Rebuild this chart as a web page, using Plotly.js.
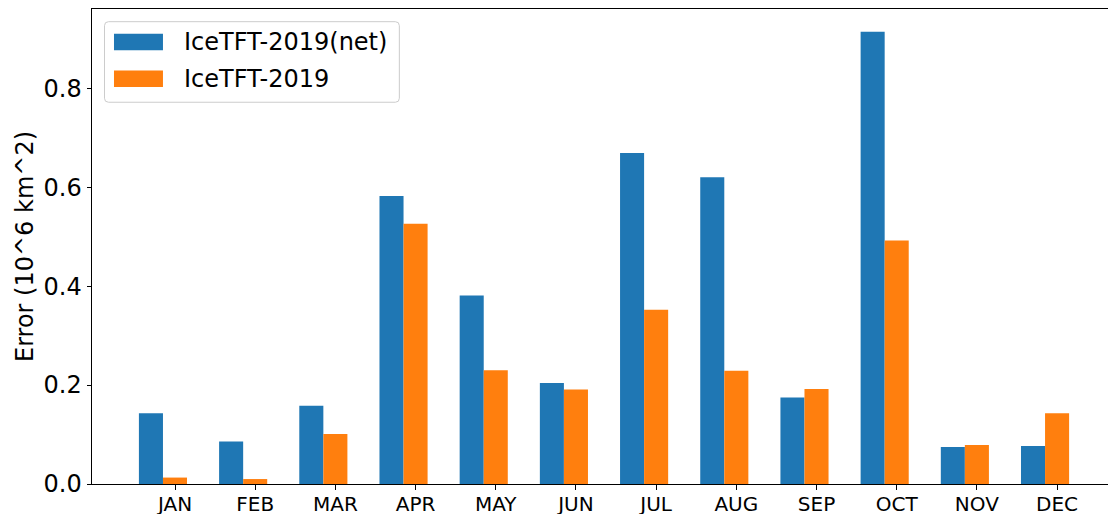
<!DOCTYPE html>
<html>
<head>
<meta charset="utf-8">
<script src="https://cdn.plot.ly/plotly-3.0.1.min.js"></script>
<style>
  html, body { margin: 0; padding: 0; background: #fff; overflow: hidden; }
  #chart { width: 1108px; height: 514px; }
</style>
</head>
<body>
<div id="chart"></div>
<script>
// Monthly error for two model variants (10^6 km^2)
const months = ["JAN", "FEB", "MAR", "APR", "MAY", "JUN", "JUL", "AUG", "SEP", "OCT", "NOV", "DEC"];
const netName = "IceTFT-2019(net)";
const baseName = "IceTFT-2019";
const netErr  = [0.143, 0.086, 0.158, 0.582, 0.381, 0.204, 0.669, 0.620, 0.175, 0.914, 0.075, 0.077];
const baseErr = [0.013, 0.010, 0.101, 0.526, 0.230, 0.191, 0.352, 0.229, 0.192, 0.492, 0.079, 0.143];
const yTicks = [0, 0.2, 0.4, 0.6, 0.8];

const BLUE = "#1f77b4", ORANGE = "#ff7f0e";
const FONT = "DejaVu Sans, Liberation Sans, sans-serif";
const barW = 0.3;

// plot area in page pixels (right edge runs to the page border)
const PL = 91.5, PR = 1108, PT = 9, PB = 484.3;
const W = 1108, H = 514;
const px2paperX = p => (p - PL) / (PR - PL);
const px2paperY = p => (PB - p) / (PB - PT);

const idx = months.map((_, i) => i);

const traces = [
  { type: "bar", name: netName, x: idx, y: netErr, width: barW,
    marker: { color: BLUE, line: { width: 0 } }, showlegend: false, hoverinfo: "y" },
  { type: "bar", name: baseName, x: idx.map(i => i + barW), y: baseErr, width: barW,
    marker: { color: ORANGE, line: { width: 0 } }, showlegend: false, hoverinfo: "y" }
];

// hand-built legend: rounded frame, wide colour patches, labels
function roundedRect(x0, y0, x1, y1, r) {
  const X = p => px2paperX(p), Y = p => px2paperY(p);
  return `M${X(x0 + r)},${Y(y0)} L${X(x1 - r)},${Y(y0)} Q${X(x1)},${Y(y0)} ${X(x1)},${Y(y0 + r)} ` +
         `L${X(x1)},${Y(y1 - r)} Q${X(x1)},${Y(y1)} ${X(x1 - r)},${Y(y1)} ` +
         `L${X(x0 + r)},${Y(y1)} Q${X(x0)},${Y(y1)} ${X(x0)},${Y(y1 - r)} ` +
         `L${X(x0)},${Y(y0 + r)} Q${X(x0)},${Y(y0)} ${X(x0 + r)},${Y(y0)} Z`;
}
const legendItems = [
  { name: netName, color: BLUE, top: 33.7, bottom: 50.3, textY: 42.5 },
  { name: baseName, color: ORANGE, top: 70.5, bottom: 87.0, textY: 79.0 }
];

const shapes = [
  { type: "path", xref: "paper", yref: "paper", path: roundedRect(104, 21.7, 399, 102.3, 4),
    fillcolor: "rgba(255,255,255,0.8)", line: { color: "#cccccc", width: 1 } }
];
const annotations = [];
legendItems.forEach(it => {
  shapes.push({ type: "rect", xref: "paper", yref: "paper",
    x0: px2paperX(113.5), x1: px2paperX(162.5), y0: px2paperY(it.bottom), y1: px2paperY(it.top),
    fillcolor: it.color, line: { width: 0 } });
  annotations.push({ xref: "paper", yref: "paper", x: px2paperX(182), y: px2paperY(it.textY),
    xanchor: "left", yanchor: "middle", showarrow: false, text: it.name,
    font: { family: FONT, size: 24, color: "#000" } });
});

const layout = {
  width: W, height: H,
  margin: { l: PL, r: W - PR, t: PT, b: H - PB, pad: 0 },
  paper_bgcolor: "#fff", plot_bgcolor: "#fff",
  barmode: "overlay",
  font: { family: FONT, color: "#000" },
  xaxis: {
    range: [-0.735, 11.935], showgrid: false, zeroline: false,
    tickmode: "array", tickvals: idx.map(i => i + barW), ticktext: months,
    ticks: "outside", ticklen: 4.5, tickwidth: 1, tickcolor: "#000",
    ticklabelstandoff: -3,
    tickfont: { family: FONT, size: 20, color: "#000" },
    showline: true, linecolor: "#000", linewidth: 1, mirror: true, automargin: false
  },
  yaxis: {
    range: [0, 0.9602], showgrid: false, zeroline: false,
    tickmode: "array", tickvals: yTicks, tickformat: ".1f",
    ticks: "outside", ticklen: 4.5, tickwidth: 1, tickcolor: "#000",
    tickfont: { family: FONT, size: 24, color: "#000" },
    showline: true, linecolor: "#000", linewidth: 1, automargin: false,
    title: { text: "Error (10^6 km^2)", font: { family: FONT, size: 24, color: "#000" }, standoff: 3 }
  },
  shapes: shapes,
  annotations: annotations,
  showlegend: false
};

Plotly.newPlot("chart", traces, layout, { staticPlot: true, displayModeBar: false });
</script>
</body>
</html>
